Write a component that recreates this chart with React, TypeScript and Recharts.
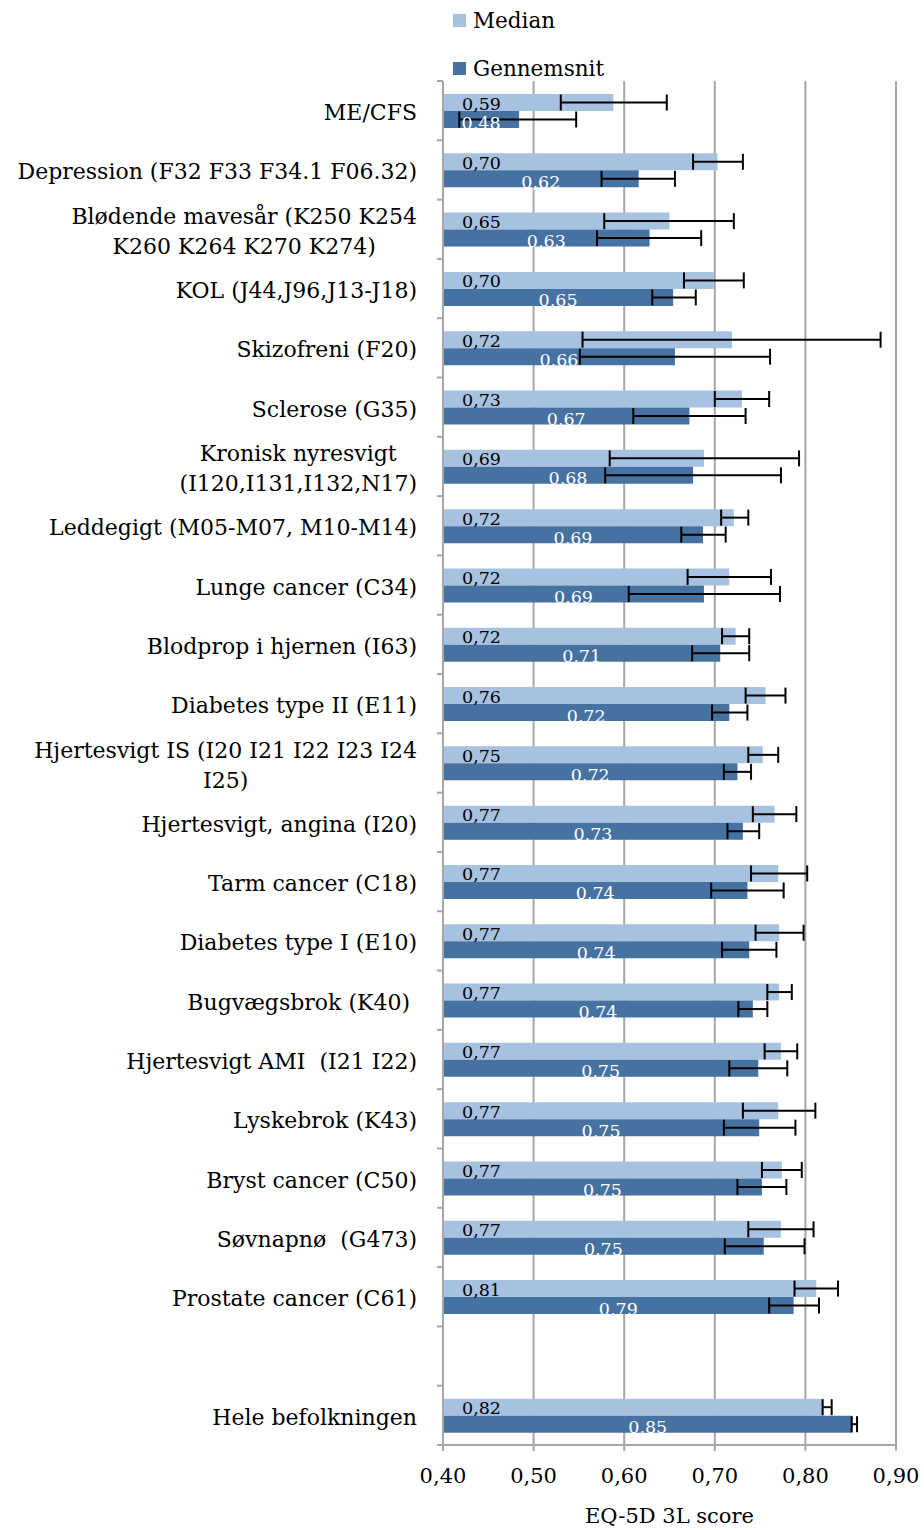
import React from "react";
import {
  BarChart,
  Bar,
  XAxis,
  YAxis,
  CartesianGrid,
  ErrorBar,
  LabelList,
} from "recharts";

// categories top to bottom ("" is the empty spacer row)
const categories = [
  "ME/CFS",
  "Depression (F32 F33 F34.1 F06.32)",
  "Blødende mavesår (K250 K254\nK260 K264 K270 K274)",
  "KOL (J44,J96,J13-J18)",
  "Skizofreni (F20)",
  "Sclerose (G35)",
  "Kronisk nyresvigt\n(I120,I131,I132,N17)",
  "Leddegigt (M05-M07, M10-M14)",
  "Lunge cancer (C34)",
  "Blodprop i hjernen (I63)",
  "Diabetes type II (E11)",
  "Hjertesvigt IS (I20 I21 I22 I23 I24\nI25)",
  "Hjertesvigt, angina (I20)",
  "Tarm cancer (C18)",
  "Diabetes type I (E10)",
  "Bugvægsbrok (K40) ",
  "Hjertesvigt AMI  (I21 I22)",
  "Lyskebrok (K43)",
  "Bryst cancer (C50)",
  "Søvnapnø  (G473)",
  "Prostate cancer (C61)",
  "",
  "Hele befolkningen",
];

const median = [
  0.588, 0.703, 0.65, 0.699, 0.719, 0.73, 0.688, 0.721, 0.716, 0.723, 0.756,
  0.753, 0.766, 0.77, 0.771, 0.771, 0.773, 0.77, 0.774, 0.773, 0.812, null,
  0.82,
];
const medianLow = [
  0.53, 0.676, 0.578, 0.666, 0.554, 0.7, 0.584, 0.707, 0.67, 0.708, 0.734,
  0.737, 0.742, 0.74, 0.745, 0.758, 0.755, 0.731, 0.752, 0.737, 0.788, null,
  0.819,
];
const medianHigh = [
  0.647, 0.731, 0.721, 0.732, 0.883, 0.76, 0.793, 0.737, 0.762, 0.738, 0.778,
  0.77, 0.79, 0.802, 0.798, 0.785, 0.791, 0.811, 0.796, 0.809, 0.836, null,
  0.829,
];

const mean = [
  0.484, 0.616, 0.628, 0.654, 0.656, 0.672, 0.676, 0.687, 0.688, 0.706, 0.716,
  0.725, 0.731, 0.736, 0.738, 0.742, 0.748, 0.749, 0.752, 0.754, 0.787, null,
  0.852,
];
const meanLow = [
  0.418, 0.575, 0.57, 0.631, 0.551, 0.61, 0.579, 0.663, 0.605, 0.675, 0.697,
  0.71, 0.714, 0.696, 0.708, 0.726, 0.716, 0.71, 0.725, 0.711, 0.76, null,
  0.851,
];
const meanHigh = [
  0.547, 0.656, 0.685, 0.679, 0.761, 0.734, 0.773, 0.712, 0.772, 0.738, 0.736,
  0.74, 0.749, 0.776, 0.768, 0.758, 0.78, 0.789, 0.779, 0.799, 0.815, null,
  0.857,
];

const xTicks = [0.4, 0.5, 0.6, 0.7, 0.8, 0.9];

const FONT = '"DejaVu Serif", serif';
const LIGHT = "#A7C1E0";
const DARK = "#4672A1";
const GRID = "#A6A6A6";

const W = 924;
const H = 1530;
const TOP = 81;
const AXIS_H = 85;
const Y_W = 443;
const PLOT_H = H - TOP - AXIS_H;
const CAT_SIZE = 22;

const data = categories.map((name, i) => ({
  name,
  median: median[i],
  mean: mean[i],
  medianErr:
    median[i] == null ? null : [median[i]! - medianLow[i]!, medianHigh[i]! - median[i]!],
  meanErr: mean[i] == null ? null : [mean[i]! - meanLow[i]!, meanHigh[i]! - mean[i]!],
}));

let ctx: CanvasRenderingContext2D | null = null;
function textWidth(s: string) {
  if (!ctx) ctx = document.createElement("canvas").getContext("2d");
  if (!ctx) return s.length * CAT_SIZE * 0.55;
  ctx.font = `${CAT_SIZE}px "DejaVu Serif"`;
  return ctx.measureText(s).width;
}

const fmt = (v: number) => v.toFixed(2).replace(".", ",");

function CategoryTick(props: any) {
  const { y, payload, index } = props;
  const band = PLOT_H / categories.length;
  const lines = String(payload.value).split("\n");
  const right = 417;
  const lineH = 30;
  const multi = lines.length > 1;
  const maxW = Math.max(...lines.map(textWidth));
  return (
    <g>
      <line x1={437} x2={443} y1={y - band / 2} y2={y - band / 2} stroke={GRID} strokeWidth={2} />
      {index === categories.length - 1 && (
        <line x1={437} x2={443} y1={y + band / 2} y2={y + band / 2} stroke={GRID} strokeWidth={2} />
      )}
      {lines.map((ln, i) => (
        <text
          key={i}
          x={multi ? right - maxW / 2 : right}
          y={y + 2 + (i - (lines.length - 1) / 2) * lineH}
          textAnchor={multi ? "middle" : "end"}
          dominantBaseline="central"
          fontFamily={FONT}
          fontSize={CAT_SIZE}
          fill="#000"
          style={{ whiteSpace: "pre" }}
        >
          {ln}
        </text>
      ))}
    </g>
  );
}

function MedianLabel(props: any) {
  const { x, y, height, value } = props;
  if (value == null) return null;
  return (
    <text x={x + 19} y={y + height / 2 + 1} dominantBaseline="central" fontFamily={FONT} fontSize={17.5} fill="#000">
      {fmt(value)}
    </text>
  );
}

function MeanLabel(props: any) {
  const { x, y, width, height, value } = props;
  if (value == null) return null;
  return (
    <text
      x={x + width / 2}
      y={y + height / 2 + 3}
      textAnchor="middle"
      dominantBaseline="central"
      fontFamily={FONT}
      fontSize={17.5}
      fill="#fff"
    >
      {fmt(value)}
    </text>
  );
}

function LegendBox() {
  const items = [
    { label: "Median", color: LIGHT, top: 20 },
    { label: "Gennemsnit", color: DARK, top: 68 },
  ];
  return (
    <>
      {items.map((it) => (
        <div
          key={it.label}
          style={{
            position: "absolute",
            left: 453,
            top: it.top - 13,
            height: 26,
            display: "flex",
            alignItems: "center",
            fontFamily: FONT,
            fontSize: 21.5,
            color: "#000",
          }}
        >
          <span style={{ width: 13, height: 13, background: it.color, marginRight: 7 }} />
          {it.label}
        </div>
      ))}
    </>
  );
}

export default function App() {
  return (
    <div style={{ position: "absolute", left: 0, top: 0, width: W, height: H, background: "#fff" }}>
      <BarChart
        width={W}
        height={H}
        data={data}
        layout="vertical"
        margin={{ top: TOP, right: 28, bottom: 0, left: 0 }}
        barGap={0}
        barSize={17}
      >
        <CartesianGrid horizontal={false} stroke={GRID} strokeWidth={2} />
        <XAxis
          type="number"
          domain={[0.4, 0.9]}
          ticks={xTicks}
          tickFormatter={fmt}
          height={AXIS_H}
          axisLine={{ stroke: GRID, strokeWidth: 2 }}
          tickLine={{ stroke: GRID, strokeWidth: 2 }}
          tickSize={6}
          tickMargin={17}
          tick={{ fill: "#000", fontFamily: FONT, fontSize: 21 }}
          label={{
            value: "EQ-5D 3L score",
            position: "insideBottom",
            offset: 7,
            fill: "#000",
            fontFamily: FONT,
            fontSize: 21,
          }}
        />
        <YAxis
          type="category"
          dataKey="name"
          width={Y_W}
          interval={0}
          axisLine={{ stroke: GRID, strokeWidth: 2 }}
          tickLine={false}
          tick={<CategoryTick />}
        />
        <Bar dataKey="median" fill={LIGHT} isAnimationActive={false}>
          <LabelList dataKey="median" content={<MedianLabel />} />
          <ErrorBar dataKey="medianErr" direction="x" width={8} stroke="#000" strokeWidth={2} />
        </Bar>
        <Bar dataKey="mean" fill={DARK} isAnimationActive={false}>
          <LabelList dataKey="mean" content={<MeanLabel />} />
          <ErrorBar dataKey="meanErr" direction="x" width={8} stroke="#000" strokeWidth={2} />
        </Bar>
      </BarChart>
      <LegendBox />
    </div>
  );
}
